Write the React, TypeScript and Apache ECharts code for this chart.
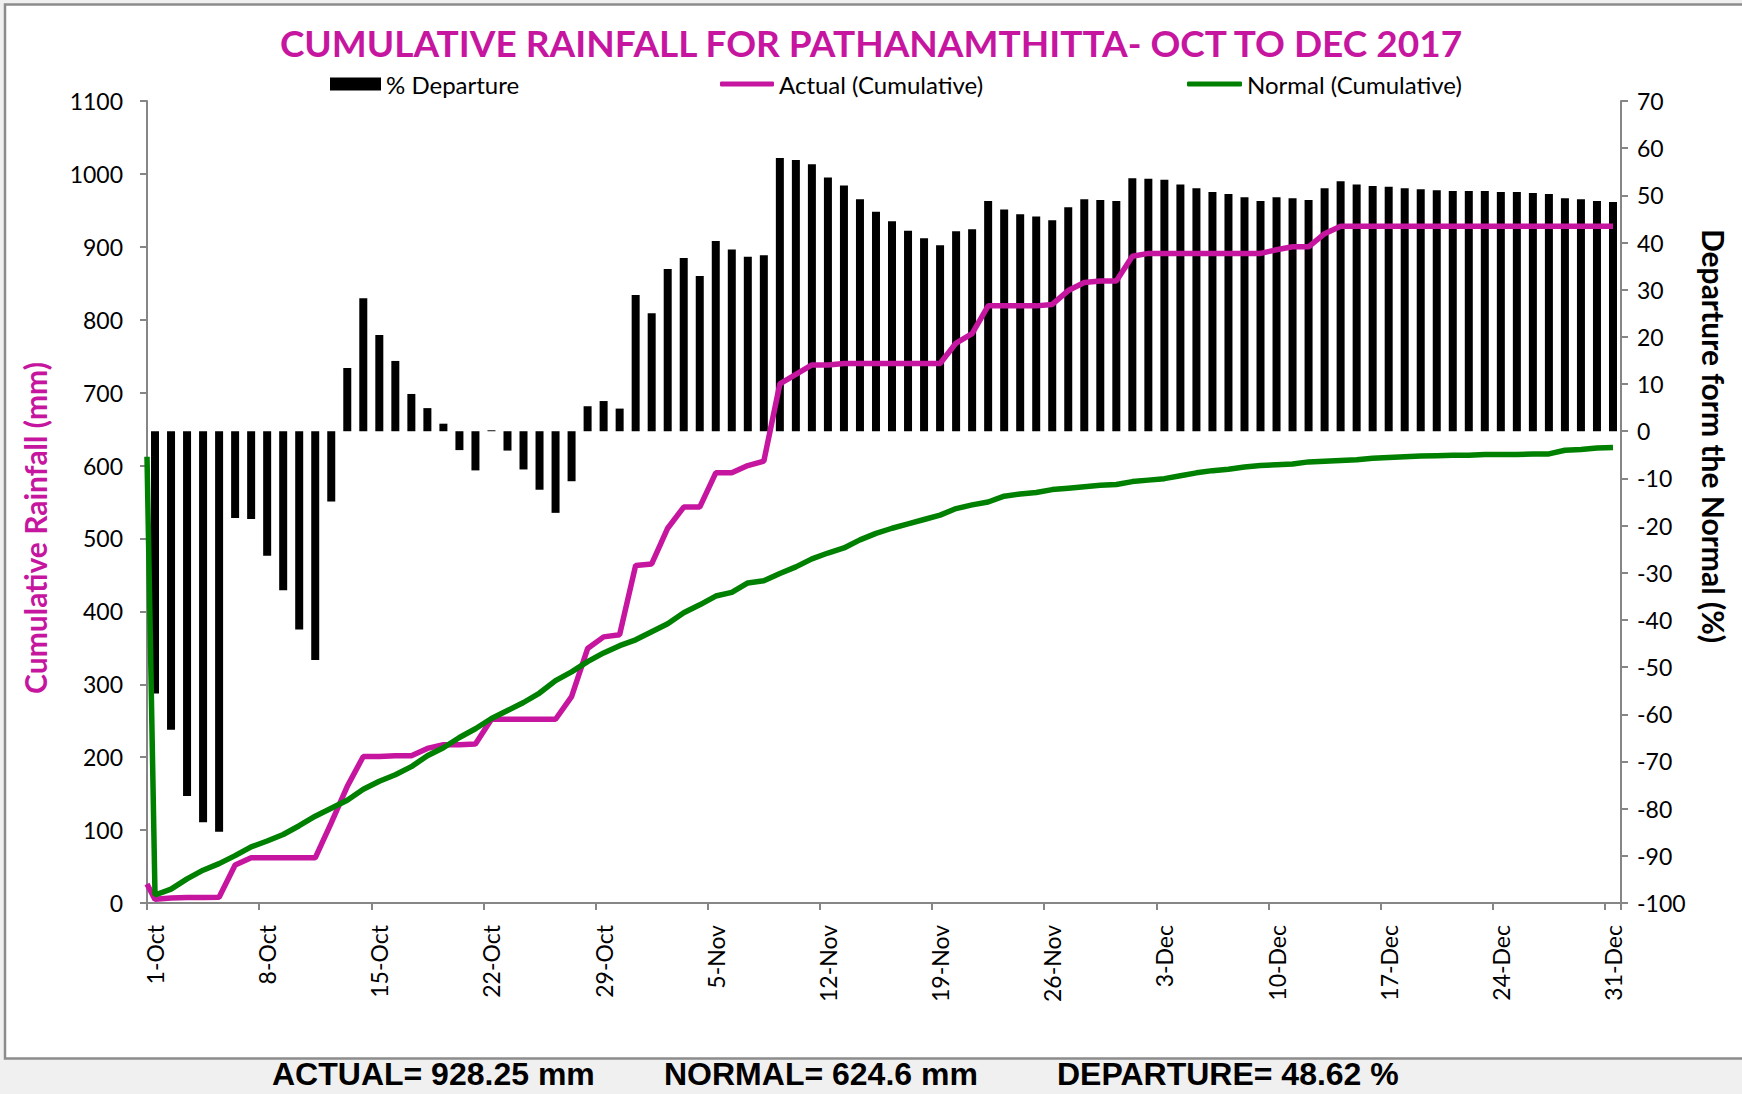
import React, { useEffect, useRef } from "react";
import * as echarts from "echarts";

// ---------- data ----------
const months: [string, number][] = [
  ["Oct", 31],
  ["Nov", 30],
  ["Dec", 31],
];
const categories: string[] = [];
months.forEach(([m, n]) => {
  for (let d = 1; d <= n; d++) categories.push(`${d}-${m}`);
});

// % departure from normal (right axis)
const departure: number[] = [
  -55.6, -63.3, -77.3, -82.9, -84.9, -18.4, -18.6, -26.4, -33.7, -42.0,
  -48.5, -14.9, 13.4, 28.2, 20.4, 14.9, 7.9, 4.9, 1.6, -4.0,
  -8.3, 0.2, -4.1, -8.1, -12.4, -17.3, -10.6, 5.3, 6.4, 4.8,
  28.9, 25.0, 34.4, 36.7, 32.9, 40.3, 38.5, 37.0, 37.3, 57.9,
  57.5, 56.6, 53.8, 52.1, 49.2, 46.5, 44.5, 42.5, 40.9, 39.4,
  42.4, 42.8, 48.8, 47.0, 46.0, 45.5, 44.7, 47.5, 49.2, 49.0,
  48.8, 53.6, 53.5, 53.3, 52.3, 51.5, 50.7, 50.3, 49.6, 48.8,
  49.6, 49.4, 49.0, 51.5, 53.0, 52.3, 52.0, 51.8, 51.5, 51.3,
  51.1, 50.9, 50.9, 50.9, 50.7, 50.7, 50.5, 50.3, 49.4, 49.2,
  48.8, 48.6,
];

// Actual cumulative rainfall (mm)
const actualStart = 26; // value where the line meets the left axis
const actual: number[] = [
  5, 7, 7.5, 7.7, 8, 52, 62, 62, 62, 62,
  62, 110, 160, 201, 201, 202, 202, 212, 217, 217,
  218, 252, 252, 252, 252, 252, 283, 349, 365, 368,
  463, 465, 514, 543, 543, 590, 590, 600, 606, 712,
  725, 738, 738, 740, 740, 740, 740, 740, 740, 740,
  768, 781, 819, 819, 819, 819, 821, 840, 851, 853,
  853, 887, 891, 891, 891, 891, 891, 891, 891, 891,
  896, 900, 900, 918, 928.25, 928.25, 928.25, 928.25, 928.25, 928.25,
  928.25, 928.25, 928.25, 928.25, 928.25, 928.25, 928.25, 928.25, 928.25, 928.25,
  928.25, 928.25,
];

// Normal cumulative rainfall (mm)
const normalStart = 612; // value where the line meets the left axis
const normal: number[] = [
  11, 19, 33, 45, 54, 65, 77, 85, 94, 106,
  119, 130, 141, 156, 167, 176, 187, 202, 213, 227,
  239, 253, 264, 275, 288, 305, 317, 331, 343, 353,
  361, 372, 383, 398, 409, 421, 426, 439, 442, 452,
  461, 472, 480, 487, 498, 507, 514, 520, 526, 532,
  541, 546, 550, 558, 561, 563, 567, 569, 571, 573,
  574, 578, 580, 582, 586, 590, 593, 595, 598, 600,
  601, 602, 605, 606, 607, 608, 610, 611, 612, 613,
  613.5, 614, 614, 615, 615, 615, 616, 616, 621, 622,
  624, 624.6,
];

const summaryTexts: string[] = [
  "ACTUAL= 928.25 mm",
  "NORMAL= 624.6 mm",
  "DEPARTURE= 48.62 %",
];

const MAGENTA = "#C616A0";
const GREEN = "#008000";
const AXIS = "#868686";
const FONT = "Lato";

export default function App() {
  const ref = useRef<HTMLDivElement>(null);

  useEffect(() => {
    if (!ref.current) return;
    const chart = echarts.init(ref.current, undefined, { renderer: "svg" });

    const actualData = [[-0.5, actualStart], ...actual.map((v, i) => [i, v])];
    const normalData = [[-0.5, normalStart], ...normal.map((v, i) => [i, v])];

    const legendText = { fontSize: 24, color: "#000", fontFamily: FONT };

    const option: any = {
      animation: false,
      backgroundColor: "#f0f0f0",
      textStyle: { fontFamily: FONT },
      title: {
        text: "CUMULATIVE RAINFALL FOR PATHANAMTHITTA- OCT TO DEC 2017",
        left: "center",
        top: 19,
        textStyle: {
          fontSize: 37,
          fontWeight: "bold",
          color: MAGENTA,
          fontFamily: FONT,
        },
      },
      legend: [
        {
          data: [{ name: "% Departure", icon: "rect" }],
          left: 330,
          top: 72,
          padding: 0,
          itemWidth: 51,
          itemHeight: 13,
          textStyle: legendText,
        },
        {
          data: [{ name: "Actual (Cumulative)", icon: "roundRect" }],
          left: 720,
          top: 72,
          padding: 0,
          itemWidth: 54,
          itemHeight: 5,
          textStyle: legendText,
        },
        {
          data: [{ name: "Normal (Cumulative)", icon: "roundRect" }],
          left: 1187,
          top: 72,
          padding: 0,
          itemWidth: 55,
          itemHeight: 5,
          textStyle: legendText,
        },
      ],
      grid: { left: 147, right: 121, top: 101, bottom: 191, containLabel: false },
      xAxis: [
        {
          type: "category",
          data: categories,
          boundaryGap: true,
          axisLine: { show: true, onZero: false, lineStyle: { color: AXIS, width: 2 } },
          axisTick: {
            show: true,
            interval: 6,
            alignWithLabel: false,
            length: 7,
            lineStyle: { color: AXIS, width: 2 },
          },
          axisLabel: {
            interval: 6,
            rotate: 90,
            margin: 22,
            fontSize: 23,
            color: "#000",
            fontFamily: FONT,
          },
          splitLine: { show: false },
        },
        {
          type: "value",
          min: -0.5,
          max: 91.5,
          show: false,
          axisLine: { onZero: false },
        },
      ],
      yAxis: [
        {
          type: "value",
          position: "left",
          min: 0,
          max: 1100,
          interval: 100,
          axisLine: { show: true, onZero: false, lineStyle: { color: AXIS, width: 2 } },
          axisTick: { show: true, length: 7, lineStyle: { color: AXIS, width: 2 } },
          axisLabel: {
            margin: 24,
            fontSize: 23,
            color: "#000",
            fontFamily: FONT,
            formatter: (v: number) => String(v),
          },
          splitLine: { show: false },
        },
        {
          type: "value",
          position: "right",
          min: -100,
          max: 70,
          interval: 10,
          axisLine: { show: true, onZero: false, lineStyle: { color: AXIS, width: 2 } },
          axisTick: { show: true, length: 7, lineStyle: { color: AXIS, width: 2 } },
          axisLabel: {
            margin: 16,
            fontSize: 23,
            color: "#000",
            fontFamily: FONT,
            formatter: (v: number) => String(v),
          },
          splitLine: { show: false },
        },
      ],
      series: [
        {
          name: "% Departure",
          type: "bar",
          xAxisIndex: 0,
          yAxisIndex: 1,
          data: departure,
          barWidth: 8,
          itemStyle: { color: "#000" },
        },
        {
          name: "Actual (Cumulative)",
          type: "line",
          xAxisIndex: 1,
          yAxisIndex: 0,
          data: actualData,
          showSymbol: false,
          symbol: "none",
          color: MAGENTA,
          itemStyle: { color: MAGENTA },
          lineStyle: { color: MAGENTA, width: 5.5 },
          z: 3,
        },
        {
          name: "Normal (Cumulative)",
          type: "line",
          xAxisIndex: 1,
          yAxisIndex: 0,
          data: normalData,
          showSymbol: false,
          symbol: "none",
          color: GREEN,
          itemStyle: { color: GREEN },
          lineStyle: { color: GREEN, width: 5.5 },
          z: 4,
        },
      ],
      graphic: [
        {
          type: "rect",
          silent: true,
          z: -10,
          shape: { x: 5, y: 4.5, width: 1760, height: 1054 },
          style: { fill: "#ffffff", stroke: "#8c8c8c", lineWidth: 2.5 },
        },
        {
          type: "text",
          x: 35,
          y: 528,
          rotation: Math.PI / 2,
          style: {
            text: "Cumulative Rainfall (mm)",
            fill: MAGENTA,
            fontSize: 30,
            fontWeight: "bold",
            fontFamily: FONT,
            align: "center",
            verticalAlign: "middle",
          },
        },
        {
          type: "text",
          x: 1714,
          y: 436,
          rotation: -Math.PI / 2,
          style: {
            text: "Departure form the Normal (%)",
            fill: "#000",
            fontSize: 30,
            fontWeight: "bold",
            fontFamily: FONT,
            align: "center",
            verticalAlign: "middle",
          },
        },
        ...summaryTexts.map((t, i) => ({
          type: "text",
          x: [272, 664, 1057][i],
          y: 1074,
          style: {
            text: t,
            fill: "#000",
            fontSize: 32,
            fontWeight: "bold",
            fontFamily: "Liberation Sans",
            align: "left",
            verticalAlign: "middle",
          },
        })),
      ],
    };

    chart.setOption(option);
    return () => chart.dispose();
  }, []);

  return (
    <div
      ref={ref}
      style={{ position: "fixed", left: 0, top: 0, width: 1742, height: 1094 }}
    />
  );
}
